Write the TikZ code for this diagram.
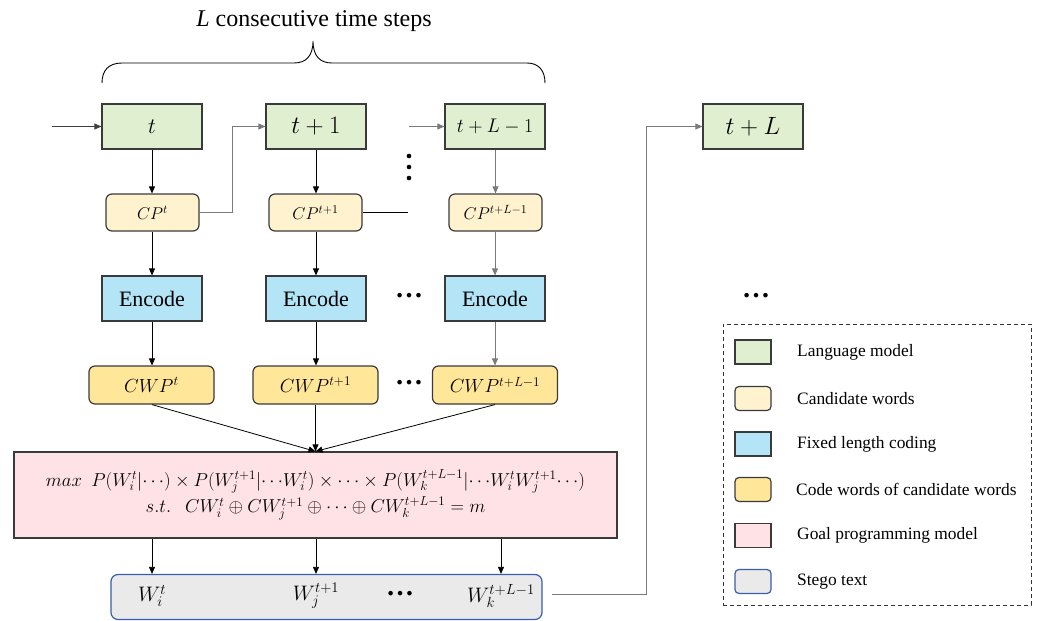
\documentclass[tikz,border=0pt]{standalone}
\usepackage{fix-cm}
\usepackage{fontspec}
\setmainfont{Liberation Serif}
\usetikzlibrary{arrows.meta}

\definecolor{boxline}{HTML}{3A3A3A}
\definecolor{lmgreen}{HTML}{DFEFD0}
\definecolor{cpcream}{HTML}{FFF2CF}
\definecolor{encblue}{HTML}{B3E5F7}
\definecolor{cwpgold}{HTML}{FFE699}
\definecolor{gpink}{HTML}{FFE2E5}
\definecolor{stegogray}{HTML}{EAEAEA}
\definecolor{stegoline}{HTML}{3A5FA8}
\definecolor{linkgray}{HTML}{7A7A7A}

\newcommand\fsz[1]{\fontsize{#1}{#1}\selectfont}

\begin{document}
\begin{tikzpicture}[x=1pt,y=-1pt,
  every node/.style={inner sep=0pt},
  box/.style={draw=boxline, line width=1.2pt, inner sep=0pt},
  lm/.style={box, fill=lmgreen, minimum width=100pt, minimum height=45pt, font=\fsz{22}},
  cp/.style={box, fill=cpcream, rounded corners=6pt, minimum width=93pt, minimum height=37pt, font=\fsz{17}},
  enc/.style={box, fill=encblue, minimum width=100pt, minimum height=45pt, font=\fsz{22}},
  cwp/.style={box, fill=cwpgold, rounded corners=6pt, minimum width=125pt, minimum height=38pt, font=\fsz{19}},
  arr/.style={-{Triangle[length=7pt,width=6pt]}, line width=0.8pt},
  glink/.style={draw=linkgray, line width=1.3pt},
  ell/.style={font=\bfseries\fsz{28}},
  swatch/.style={box, minimum width=36pt, minimum height=24pt},
  legtext/.style={anchor=west, font=\fsz{17.4}}
]
\useasboundingbox (0,0) rectangle (1037,621);

% heading and brace over the L time steps
\node[font=\fsz{24}] (title) at (314,21) {\textit{L} consecutive time steps};
\coordinate (tip) at (313,41);
\draw[line width=0.9pt] (102,83) .. controls (102,71) and (108,63) .. (122,63) -- (294,63)
  .. controls (306,63) and (313,56) .. (tip)
  .. controls (313,56) and (320,63) .. (332,63) -- (527,63)
  .. controls (539,63) and (545,71) .. (545,83);

% language model steps
\node[lm] (lm1) at (152,126.5) {$t$};
\node[lm, font=\fsz{25}] (lm2) at (316,126.5) {$t+1$};
\node[lm, font=\fsz{19.7}] (lm3) at (495,126.5) {$t+L-1$};
\node[lm, font=\fsz{25}] (lm4) at (753,126.5) {$t+L$};

% candidate word pools
\node[cp] (cp1) at (152.5,212.5) {$CP^{t}$};
\node[cp] (cp2) at (315.5,212.5) {$CP^{t+1}$};
\node[cp] (cp3) at (495.5,212.5) {$CP^{t+L-1}$};

% fixed length coding
\node[enc] (enc1) at (152,298.5) {Encode};
\node[enc] (enc2) at (316,298.5) {Encode};
\node[enc] (enc3) at (495,298.5) {Encode};

% code words of the pools
\node[cwp] (cwp1) at (151.5,385) {$CWP^{t}$};
\node[cwp] (cwp2) at (315.5,385) {$CWP^{t+1}$};
\node[cwp] (cwp3) at (495,385) {$CWP^{t+L-1}$};

% goal programming model
\node[box, fill=gpink, minimum width=603pt, minimum height=86pt, align=center, font=\fsz{18.7}]
  (gp) at (315.5,495)
  {$max\ \ P(W_i^t|{\cdots})\times P\big(W_j^{t+1}|{\cdots}W_i^t\big)\times\cdots\times P\big(W_k^{t+L-1}|{\cdots}W_i^tW_j^{t+1}{\cdots}\big)$\\[2pt]
   $s.t.\ \ \ CW_i^t\oplus CW_j^{t+1}\oplus\cdots\oplus CW_k^{t+L-1}=m$};

% stego text
\node[draw=stegoline, line width=1.2pt, fill=stegogray, rounded corners=7pt,
  minimum width=431pt, minimum height=45pt] (stego) at (326.5,597) {};
\node[font=\fsz{21}] (w1) at (152,596) {$W_i^t$};
\node[font=\fsz{21}] (w2) at (316,596) {$W_j^{t+1}$};
\node[ell] (wdots) at (400,594) {…};
\node[font=\fsz{21}] (w3) at (501,596) {$W_k^{t+L-1}$};

% ellipses between the columns
\fill (409,156) circle (2.3pt) (409,167) circle (2.3pt) (409,178) circle (2.3pt);
\node[ell] (edots) at (409,296) {…};
\node[ell] (cdots) at (409,383) {…};
\node[ell] (rdots) at (756,296) {…};

% free ends of connectors
\coordinate (in1) at (52,126.5);
\coordinate (in3) at (409,126.5);
\coordinate (k1) at (232,212.5);
\coordinate (c2) at (408,212.5);
\coordinate (s0) at (552,594);
\coordinate (k2) at (646,594);

% connectors
\draw[arr, draw=black!75] (in1) -- (lm1);
\draw[arr, draw=linkgray] (in3) -- (lm3);
\draw[arr] (lm1) -- (cp1.north -| lm1);
\draw[arr] (lm2) -- (cp2.north -| lm2);
\draw[arr, draw=linkgray] (lm3.south -| cp3) -- (cp3);
\draw[glink, arr] (cp1.east) -- (k1) -- (k1 |- lm2.west) -- (lm2.west);
\draw[line width=0.8pt] (cp2.east) -- (c2);
\draw[arr] (cp1.south -| lm1) -- (enc1);
\draw[arr] (cp2.south -| lm2) -- (enc2);
\draw[arr, draw=linkgray] (cp3.south -| enc3) -- (enc3);
\draw[arr] (enc1) -- (cwp1.north -| enc1);
\draw[arr] (enc2) -- (cwp2.north -| enc2);
\draw[arr, draw=linkgray] (enc3) -- (cwp3.north -| enc3);
\draw[arr] (cwp1.south -| enc1) -- (gp.north);
\draw[arr] (cwp2.south) -- (gp.north);
\draw[arr] (cwp3.south) -- (gp.north);
\draw[arr] (gp.south -| w1) -- (stego.north -| w1);
\draw[arr] (gp.south -| w2) -- (stego.north -| w2);
\draw[arr] (gp.south -| w3) -- (stego.north -| w3);
\draw[glink, arr] (s0) -- (k2) -- (k2 |- lm4.west) -- (lm4.west);

% legend
\node[draw=black!80, dashed, dash pattern=on 4pt off 3pt, line width=0.9pt,
  minimum width=308pt, minimum height=281pt] (legend) at (877,464.5) {};
\node[swatch, fill=lmgreen] (sw1) at (753,352) {};
\node[swatch, fill=cpcream, rounded corners=4pt] (sw2) at (753,398.5) {};
\node[swatch, fill=encblue] (sw3) at (753,444) {};
\node[swatch, fill=cwpgold, rounded corners=4pt] (sw4) at (753,489.5) {};
\node[swatch, fill=gpink] (sw5) at (753,535.5) {};
\node[swatch, draw=stegoline, fill=stegogray, rounded corners=4pt] (sw6) at (753,581.5) {};
\node[legtext] (t1) at (797,352) {Language model};
\node[legtext] (t2) at (797,398.5) {Candidate words};
\node[legtext] (t3) at (797,444) {Fixed length coding};
\node[legtext] (t4) at (796,489.5) {Code words of candidate words};
\node[legtext] (t5) at (797,535.5) {Goal programming model};
\node[legtext] (t6) at (797,581.5) {Stego text};
\end{tikzpicture}
\end{document}
